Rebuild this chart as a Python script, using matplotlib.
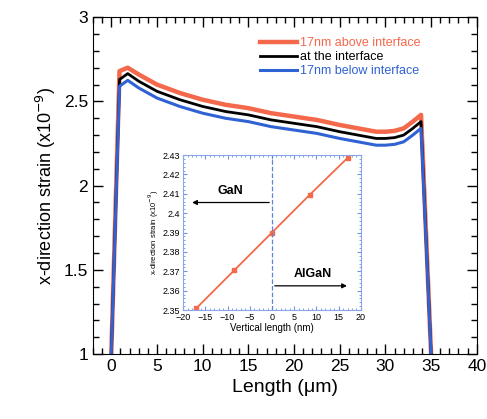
import matplotlib
matplotlib.use("Agg")
import matplotlib.pyplot as plt
from matplotlib.ticker import MultipleLocator

plt.rcParams['font.family'] = ['Liberation Sans', 'DejaVu Sans']

# main chart data (Length in um, strain x1e-9)
length = [0, 0.9, 1.8, 3, 5, 7.5, 10, 12.5, 15, 17.5, 20, 22.5, 25, 27.5, 29, 30, 31, 32, 33, 33.9, 35]
above = [1.0, 2.68, 2.70, 2.66, 2.60, 2.55, 2.51, 2.48, 2.46, 2.43, 2.41, 2.39, 2.36, 2.335, 2.32, 2.32, 2.325, 2.34, 2.38, 2.42, 1.0]
at_int = [1.0, 2.63, 2.665, 2.62, 2.56, 2.51, 2.47, 2.44, 2.42, 2.39, 2.37, 2.35, 2.32, 2.295, 2.28, 2.28, 2.285, 2.30, 2.34, 2.38, 1.0]
below = [1.0, 2.59, 2.625, 2.58, 2.52, 2.47, 2.43, 2.40, 2.38, 2.35, 2.33, 2.31, 2.28, 2.255, 2.24, 2.24, 2.245, 2.26, 2.30, 2.34, 1.0]
labels = ["17nm above interface", "at the interface", "17nm below interface"]

# inset data
vert = [-17, -8.5, 0, 8.5, 17]
strain_v = [2.351, 2.3705, 2.39, 2.4095, 2.4285]

red = '#f4694c'
blue = '#2f62d3'

fig = plt.figure(figsize=(4.87, 4.19), dpi=100)
ax = fig.add_axes([0.191, 0.155, 0.788, 0.804])

ax.plot(length, above, color=red, lw=3.2, label=labels[0])
ax.plot(length, at_int, color='black', lw=2.0, label=labels[1])
ax.plot(length, below, color=blue, lw=2.2, label=labels[2])

ax.set_xlim(-2, 40)
ax.set_ylim(1, 3)
ax.xaxis.set_major_locator(MultipleLocator(5))
ax.xaxis.set_minor_locator(MultipleLocator(1))
ax.yaxis.set_major_locator(MultipleLocator(0.5))
ax.yaxis.set_minor_locator(MultipleLocator(0.1))
ax.tick_params(which='both', direction='in', top=True, right=True, labelsize=12.5, width=1)
ax.tick_params(which='major', length=7)
ax.tick_params(which='minor', length=4)
ax.yaxis.set_major_formatter(plt.FuncFormatter(lambda v, p: f"{v:g}"))
ax.set_xlabel("Length (\u03bcm)", fontsize=14)
ax.set_ylabel("x-direction strain (x10$^{-9}$)", fontsize=13)

leg = ax.legend(loc='upper left', bbox_to_anchor=(0.435, 0.94), frameon=False,
                fontsize=9, handlelength=3.0, handletextpad=0.2, labelspacing=0.15,
                borderpad=0, borderaxespad=0, labelcolor='linecolor')

# inset
ins = fig.add_axes([0.376, 0.260, 0.365, 0.370])
ins.plot(vert, strain_v, color=red, lw=1.3, marker='s', ms=3)
ins.axvline(0, color='#5b83e0', lw=0.9, ls='--')
ins.set_xlim(-20, 20)
ins.set_ylim(2.35, 2.43)
ins.xaxis.set_major_locator(MultipleLocator(5))
ins.xaxis.set_minor_locator(MultipleLocator(1))
ins.yaxis.set_major_locator(MultipleLocator(0.01))
ins.yaxis.set_minor_locator(MultipleLocator(0.002))
ins.tick_params(which='both', direction='in', top=True, right=True, labelsize=6.5,
                color='#6f92e6', pad=2)
ins.tick_params(which='major', length=3)
ins.tick_params(which='minor', length=1.5)
ins.yaxis.set_major_formatter(plt.FuncFormatter(lambda v, p: f"{v:g}"))
for s in ins.spines.values():
    s.set_color('#8aa6ea')
ins.set_xlabel("Vertical length (nm)", fontsize=7, labelpad=1)
ins.set_ylabel("x-direction strain (x10$^{-9}$)", fontsize=5.5, labelpad=1)

ins.annotate("", xy=(-18.6, 2.4055), xytext=(0, 2.4055),
             arrowprops=dict(arrowstyle='-|>', color='black', lw=0.9, mutation_scale=7))
ins.annotate("", xy=(17.5, 2.3625), xytext=(0, 2.3625),
             arrowprops=dict(arrowstyle='-|>', color='black', lw=0.9, mutation_scale=7))
ins.text(-9.4, 2.4115, "GaN", fontsize=9, fontweight='bold', ha='center', va='center')
ins.text(9.2, 2.3685, "AlGaN", fontsize=9, fontweight='bold', ha='center', va='center')

fig.savefig("out.png", dpi=100)
